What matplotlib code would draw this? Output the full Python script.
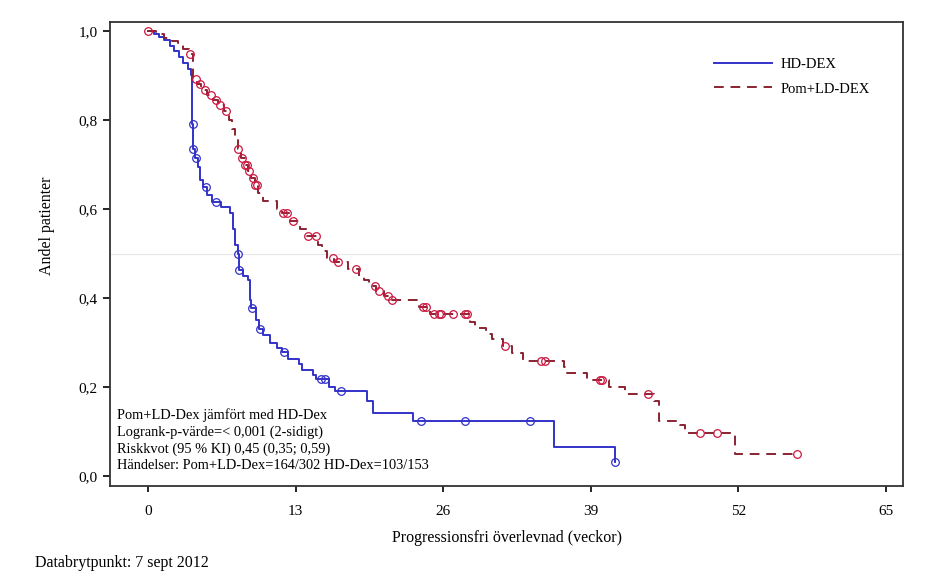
import matplotlib
matplotlib.use("Agg")
import matplotlib.pyplot as plt
import numpy as np

# HD-DEX: event times (weeks) and survival after each step
hd_t = [0.5, 1.0, 1.4, 1.9, 2.3, 2.7, 3.1, 3.5, 3.8, 3.9, 3.95, 4.1, 4.4, 4.6, 4.8,
        5.2, 5.6, 6.4, 7.2, 7.5, 7.7, 7.9, 8.0, 8.4, 8.8, 8.95, 9.05, 9.5, 9.8, 10.1,
        10.7, 11.4, 11.8, 12.3, 13.3, 13.6, 14.5, 14.8, 15.9, 16.5, 19.3, 19.8, 23.3,
        35.8, 41.1]
hd_s = [0.993, 0.987, 0.980, 0.967, 0.954, 0.941, 0.928, 0.915, 0.902, 0.790, 0.735,
        0.715, 0.695, 0.665, 0.650, 0.632, 0.615, 0.605, 0.590, 0.556, 0.520, 0.498,
        0.462, 0.450, 0.440, 0.395, 0.377, 0.350, 0.330, 0.318, 0.300, 0.288, 0.278,
        0.262, 0.252, 0.238, 0.228, 0.218, 0.200, 0.190, 0.168, 0.141, 0.123, 0.065,
        0.032]
hd_cens = [3.92, 3.97, 4.2, 5.1, 6.0, 7.95, 8.02, 9.15, 9.85, 12.0, 15.2, 15.6, 17.0,
           24.0, 27.9, 33.6, 41.1]

# Pom+LD-DEX
pom_t = [0.7, 1.4, 2.1, 2.6, 3.1, 3.6, 3.95, 4.3, 4.7, 5.2, 5.7, 6.2, 6.7, 7.1, 7.4,
         7.7, 7.9, 8.2, 8.5, 8.8, 9.1, 9.4, 9.7, 10.1, 11.4, 11.8, 12.5, 13.4, 14.0,
         15.0, 15.3, 15.8, 16.4, 17.6, 18.6, 19.0, 19.5, 20.1, 20.8, 21.3, 23.9, 24.8,
         28.4, 28.8, 29.8, 30.3, 31.3, 32.1, 33.0, 36.6, 36.9, 38.7, 40.6, 42.0, 44.6,
         45.0, 46.9, 47.3, 51.7]
pom_s = [0.993, 0.985, 0.977, 0.968, 0.959, 0.948, 0.892, 0.880, 0.868, 0.856, 0.845,
         0.833, 0.820, 0.800, 0.780, 0.757, 0.735, 0.715, 0.700, 0.685, 0.670, 0.655,
         0.635, 0.617, 0.600, 0.590, 0.574, 0.556, 0.540, 0.520, 0.505, 0.490, 0.480,
         0.465, 0.450, 0.440, 0.428, 0.415, 0.405, 0.395, 0.380, 0.365, 0.345, 0.332,
         0.320, 0.308, 0.292, 0.276, 0.258, 0.245, 0.231, 0.215, 0.200, 0.184, 0.168,
         0.123, 0.114, 0.096, 0.050]
pom_cens = [0.0, 3.7, 4.2, 4.6, 5.0, 5.5, 6.0, 6.3, 6.9, 7.9, 8.3, 8.5, 8.7, 8.9, 9.2,
            9.4, 9.6, 11.9, 12.2, 12.8, 14.1, 14.8, 16.3, 16.7, 18.3, 20.0, 20.3, 21.1,
            21.5, 24.2, 24.5, 25.2, 25.6, 25.8, 26.9, 27.9, 28.1, 31.4, 34.6, 35.0,
            39.8, 40.0, 44.0, 48.6, 50.1, 57.2]

x_ticks = [0, 13, 26, 39, 52, 65]
y_ticks = [0.0, 0.2, 0.4, 0.6, 0.8, 1.0]
stat_lines = ["Pom+LD-Dex jämfört med HD-Dex",
              "Logrank-p-värde=< 0,001 (2-sidigt)",
              "Riskkvot (95 % KI) 0,45 (0,35; 0,59)",
              "Händelser: Pom+LD-Dex=164/302 HD-Dex=103/153"]

plt.rcParams['font.family'] = ['Liberation Serif', 'DejaVu Serif']
plt.rcParams['font.size'] = 10

BLUE = '#3232c8'
RED_LINE = '#8a2232'
RED_MARK = '#cc1840'


def km_arrays(t, s, cens):
    # step arrays from time 0 out to the last censoring time
    tt = np.concatenate([[0.0], t])
    ss = np.concatenate([[1.0], s])
    end = max(max(cens), tt[-1])
    tt = np.append(tt, end)
    ss = np.append(ss, ss[-1])
    # survival at each censoring time
    idx = np.searchsorted(tt, cens, side='right') - 1
    return tt, ss, np.asarray(cens), ss[idx]


fig = plt.figure(figsize=(9.27, 5.86), dpi=100)
ax = fig.add_axes([0.1187, 0.1706, 0.8554, 0.7918])

ax.axhline(0.5, color='#e6e6e6', lw=0.8, zorder=0)

tt, ss, ct, cs = km_arrays(hd_t, hd_s, hd_cens)
ax.step(tt, ss, where='post', color=BLUE, lw=1.4, label='HD-DEX')
ax.plot(ct, cs, 'o', mfc='none', mec=BLUE, ms=5.5, mew=0.9)

tt, ss, ct, cs = km_arrays(pom_t, pom_s, pom_cens)
ax.step(tt, ss, where='post', color=RED_LINE, lw=1.4, ls=(0, (5, 3.5)),
        label='Pom+LD-DEX')
ax.plot(ct, cs, 'o', mfc='none', mec=RED_MARK, ms=5.5, mew=0.9)

ax.set_xlim(-3.35, 66.5)
ax.set_ylim(-0.0225, 1.0202)
ax.set_xticks(x_ticks)
ax.set_yticks(y_ticks)
ax.set_yticklabels([f"{v:.1f}".replace('.', ',') for v in y_ticks])
ax.tick_params(axis='x', direction='out', length=4.5, width=1.2, labelsize=11, pad=9)
ax.tick_params(axis='y', direction='out', length=5, width=1.2, labelsize=11, pad=4)
for sp in ax.spines.values():
    sp.set_linewidth(1.3)
    sp.set_color('#333333')

ax.set_xlabel('Progressionsfri överlevnad (veckor)', fontsize=11.5, labelpad=9)
fig.text(47 / 927, 1 - 226 / 586, 'Andel patienter', rotation=90, ha='center',
         va='center', fontsize=11.5)

ax.legend(loc='upper left', bbox_to_anchor=(0.745, 0.952), frameon=False,
          handlelength=4.0, handletextpad=0.6, labelspacing=0.8, fontsize=10.5)

ax.text(0.009, 0.03, "\n".join(stat_lines), transform=ax.transAxes,
        ha='left', va='bottom', fontsize=10.4, linespacing=1.32)

fig.text(35 / 927, 1 - 563 / 586, 'Databrytpunkt: 7 sept 2012', ha='left',
         va='center', fontsize=11.5)

fig.savefig('out.png', dpi=100)
